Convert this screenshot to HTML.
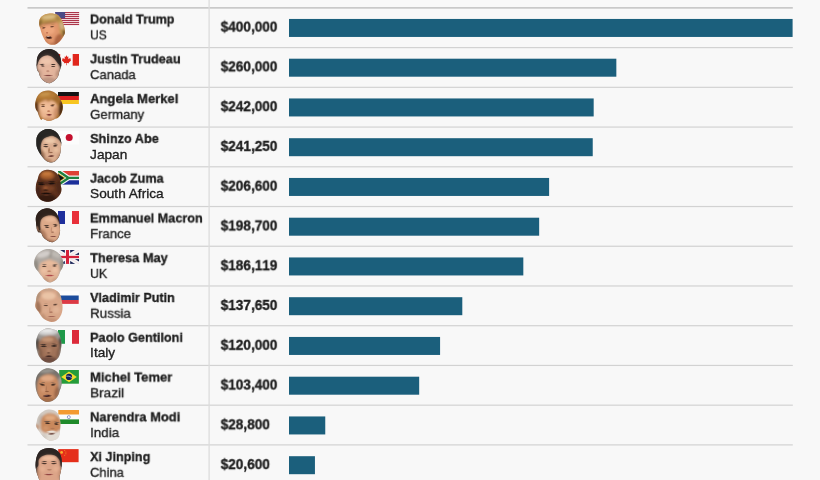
<!DOCTYPE html><html><head><meta charset="utf-8"><title>Salaries of world leaders</title><style>
html,body{margin:0;padding:0}
body{width:820px;height:480px;overflow:hidden;background:#f8f8f8;position:relative;font-family:"Liberation Sans",sans-serif;color:#1e1e1e}
.n{position:absolute;left:0;top:0;will-change:transform;-webkit-text-stroke:0.35px #1e1e1e;font-weight:bold;font-size:13.6px;line-height:14px;white-space:nowrap;transform-origin:0 0}
.c{position:absolute;left:0;top:0;will-change:transform;-webkit-text-stroke:0.35px #1e1e1e;font-size:13.6px;line-height:14px;white-space:nowrap;transform-origin:0 0}
.v{position:absolute;left:0;top:0;font-kerning:none;will-change:transform;-webkit-text-stroke:0.35px #1e1e1e;font-weight:bold;font-size:14px;line-height:14px;white-space:nowrap;transform-origin:0 0}
svg{position:absolute;left:0;top:0}
</style></head><body>
<div class="n" style="transform:translate(90.1px,12.54px) scaleX(0.923)">Donald Trump</div>
<div class="c" style="transform:translate(90.1px,28.33px) scaleX(0.883)">US</div>
<div class="v" style="transform:translate(220.7px,19.60px) scaleX(0.972)">$400,000</div>
<div class="n" style="transform:translate(90.1px,52.32px) scaleX(0.936)">Justin Trudeau</div>
<div class="c" style="transform:translate(90.1px,68.10px) scaleX(0.958)">Canada</div>
<div class="v" style="transform:translate(220.7px,59.37px) scaleX(0.972)">$260,000</div>
<div class="n" style="transform:translate(90.1px,92.10px) scaleX(0.957)">Angela Merkel</div>
<div class="c" style="transform:translate(90.1px,107.87px) scaleX(0.968)">Germany</div>
<div class="v" style="transform:translate(220.7px,99.14px) scaleX(0.972)">$242,000</div>
<div class="n" style="transform:translate(90.1px,131.88px) scaleX(0.934)">Shinzo Abe</div>
<div class="c" style="transform:translate(90.1px,147.64px) scaleX(1.004)">Japan</div>
<div class="v" style="transform:translate(220.7px,138.91px) scaleX(0.972)">$241,250</div>
<div class="n" style="transform:translate(90.1px,171.66px) scaleX(0.926)">Jacob Zuma</div>
<div class="c" style="transform:translate(90.1px,187.41px) scaleX(1.003)">South Africa</div>
<div class="v" style="transform:translate(220.7px,178.68px) scaleX(0.972)">$206,600</div>
<div class="n" style="transform:translate(90.1px,211.44px) scaleX(0.932)">Emmanuel Macron</div>
<div class="c" style="transform:translate(90.1px,227.18px) scaleX(0.965)">France</div>
<div class="v" style="transform:translate(220.7px,218.45px) scaleX(0.972)">$198,700</div>
<div class="n" style="transform:translate(90.1px,251.22px) scaleX(0.943)">Theresa May</div>
<div class="c" style="transform:translate(90.1px,266.95px) scaleX(0.905)">UK</div>
<div class="v" style="transform:translate(220.7px,258.22px) scaleX(0.972)">$186,119</div>
<div class="n" style="transform:translate(90.1px,291.00px) scaleX(0.927)">Vladimir Putin</div>
<div class="c" style="transform:translate(90.1px,306.72px) scaleX(0.979)">Russia</div>
<div class="v" style="transform:translate(220.7px,297.99px) scaleX(0.972)">$137,650</div>
<div class="n" style="transform:translate(90.1px,330.78px) scaleX(0.931)">Paolo Gentiloni</div>
<div class="c" style="transform:translate(90.1px,346.49px) scaleX(1.002)">Italy</div>
<div class="v" style="transform:translate(220.7px,337.76px) scaleX(0.972)">$120,000</div>
<div class="n" style="transform:translate(90.1px,370.56px) scaleX(0.957)">Michel Temer</div>
<div class="c" style="transform:translate(90.1px,386.26px) scaleX(0.999)">Brazil</div>
<div class="v" style="transform:translate(220.7px,377.53px) scaleX(0.972)">$103,400</div>
<div class="n" style="transform:translate(90.1px,410.34px) scaleX(0.947)">Narendra Modi</div>
<div class="c" style="transform:translate(90.1px,426.03px) scaleX(0.981)">India</div>
<div class="v" style="transform:translate(220.7px,417.30px) scaleX(0.972)">$28,800</div>
<div class="n" style="transform:translate(90.1px,450.12px) scaleX(0.926)">Xi Jinping</div>
<div class="c" style="transform:translate(90.1px,465.80px) scaleX(0.947)">China</div>
<div class="v" style="transform:translate(220.7px,457.07px) scaleX(0.972)">$20,600</div>
<svg width="820" height="480" viewBox="0 0 820 480">
<defs><filter id="b2" x="-10%" y="-10%" width="120%" height="120%"><feGaussianBlur stdDeviation="0.9"/></filter><radialGradient id="g5e3626_35"><stop offset="0.35" stop-color="#5e3626"/><stop offset="1" stop-color="#5e3626" stop-opacity="0"/></radialGradient><radialGradient id="ga88048_35"><stop offset="0.35" stop-color="#a88048"/><stop offset="1" stop-color="#a88048" stop-opacity="0"/></radialGradient><radialGradient id="gb8664a_35"><stop offset="0.35" stop-color="#b8664a"/><stop offset="1" stop-color="#b8664a" stop-opacity="0"/></radialGradient><radialGradient id="g301210_35"><stop offset="0.35" stop-color="#301210"/><stop offset="1" stop-color="#301210" stop-opacity="0"/></radialGradient><radialGradient id="gecdcd4_35"><stop offset="0.35" stop-color="#ecdcd4"/><stop offset="1" stop-color="#ecdcd4" stop-opacity="0"/></radialGradient><radialGradient id="g3a2620_35"><stop offset="0.35" stop-color="#3a2620"/><stop offset="1" stop-color="#3a2620" stop-opacity="0"/></radialGradient><radialGradient id="g2a201c_35"><stop offset="0.35" stop-color="#2a201c"/><stop offset="1" stop-color="#2a201c" stop-opacity="0"/></radialGradient><radialGradient id="gb8806c_35"><stop offset="0.35" stop-color="#b8806c"/><stop offset="1" stop-color="#b8806c" stop-opacity="0"/></radialGradient><radialGradient id="g7a3c38_35"><stop offset="0.35" stop-color="#7a3c38"/><stop offset="1" stop-color="#7a3c38" stop-opacity="0"/></radialGradient><radialGradient id="gc8948a_35"><stop offset="0.35" stop-color="#c8948a"/><stop offset="1" stop-color="#c8948a" stop-opacity="0"/></radialGradient><radialGradient id="g4a2c20_35"><stop offset="0.35" stop-color="#4a2c20"/><stop offset="1" stop-color="#4a2c20" stop-opacity="0"/></radialGradient><radialGradient id="g8a5a30_35"><stop offset="0.35" stop-color="#8a5a30"/><stop offset="1" stop-color="#8a5a30" stop-opacity="0"/></radialGradient><radialGradient id="gb87050_35"><stop offset="0.35" stop-color="#b87050"/><stop offset="1" stop-color="#b87050" stop-opacity="0"/></radialGradient><radialGradient id="g6e2624_35"><stop offset="0.35" stop-color="#6e2624"/><stop offset="1" stop-color="#6e2624" stop-opacity="0"/></radialGradient><radialGradient id="gd09078_35"><stop offset="0.35" stop-color="#d09078"/><stop offset="1" stop-color="#d09078" stop-opacity="0"/></radialGradient><radialGradient id="g2e201a_35"><stop offset="0.35" stop-color="#2e201a"/><stop offset="1" stop-color="#2e201a" stop-opacity="0"/></radialGradient><radialGradient id="g2a2220_35"><stop offset="0.35" stop-color="#2a2220"/><stop offset="1" stop-color="#2a2220" stop-opacity="0"/></radialGradient><radialGradient id="g9a6848_35"><stop offset="0.35" stop-color="#9a6848"/><stop offset="1" stop-color="#9a6848" stop-opacity="0"/></radialGradient><radialGradient id="g8a5840_35"><stop offset="0.35" stop-color="#8a5840"/><stop offset="1" stop-color="#8a5840" stop-opacity="0"/></radialGradient><radialGradient id="g5e2c26_35"><stop offset="0.35" stop-color="#5e2c26"/><stop offset="1" stop-color="#5e2c26" stop-opacity="0"/></radialGradient><radialGradient id="ge0b090_35"><stop offset="0.35" stop-color="#e0b090"/><stop offset="1" stop-color="#e0b090" stop-opacity="0"/></radialGradient><radialGradient id="g160c0a_35"><stop offset="0.35" stop-color="#160c0a"/><stop offset="1" stop-color="#160c0a" stop-opacity="0"/></radialGradient><radialGradient id="g24140e_35"><stop offset="0.35" stop-color="#24140e"/><stop offset="1" stop-color="#24140e" stop-opacity="0"/></radialGradient><radialGradient id="g3a1c12_35"><stop offset="0.35" stop-color="#3a1c12"/><stop offset="1" stop-color="#3a1c12" stop-opacity="0"/></radialGradient><radialGradient id="g140a08_35"><stop offset="0.35" stop-color="#140a08"/><stop offset="1" stop-color="#140a08" stop-opacity="0"/></radialGradient><radialGradient id="g6a3822_35"><stop offset="0.35" stop-color="#6a3822"/><stop offset="1" stop-color="#6a3822" stop-opacity="0"/></radialGradient><radialGradient id="g34221c_35"><stop offset="0.35" stop-color="#34221c"/><stop offset="1" stop-color="#34221c" stop-opacity="0"/></radialGradient><radialGradient id="g3a2a22_35"><stop offset="0.35" stop-color="#3a2a22"/><stop offset="1" stop-color="#3a2a22" stop-opacity="0"/></radialGradient><radialGradient id="gb88064_35"><stop offset="0.35" stop-color="#b88064"/><stop offset="1" stop-color="#b88064" stop-opacity="0"/></radialGradient><radialGradient id="ga06c54_35"><stop offset="0.35" stop-color="#a06c54"/><stop offset="1" stop-color="#a06c54" stop-opacity="0"/></radialGradient><radialGradient id="g7a4038_35"><stop offset="0.35" stop-color="#7a4038"/><stop offset="1" stop-color="#7a4038" stop-opacity="0"/></radialGradient><radialGradient id="g3e2e28_35"><stop offset="0.35" stop-color="#3e2e28"/><stop offset="1" stop-color="#3e2e28" stop-opacity="0"/></radialGradient><radialGradient id="g6a5a50_35"><stop offset="0.35" stop-color="#6a5a50"/><stop offset="1" stop-color="#6a5a50" stop-opacity="0"/></radialGradient><radialGradient id="gb87a60_35"><stop offset="0.35" stop-color="#b87a60"/><stop offset="1" stop-color="#b87a60" stop-opacity="0"/></radialGradient><radialGradient id="ga83e42_35"><stop offset="0.35" stop-color="#a83e42"/><stop offset="1" stop-color="#a83e42" stop-opacity="0"/></radialGradient><radialGradient id="gd8a088_35"><stop offset="0.35" stop-color="#d8a088"/><stop offset="1" stop-color="#d8a088" stop-opacity="0"/></radialGradient><radialGradient id="g4a3228_35"><stop offset="0.35" stop-color="#4a3228"/><stop offset="1" stop-color="#4a3228" stop-opacity="0"/></radialGradient><radialGradient id="g9a7860_35"><stop offset="0.35" stop-color="#9a7860"/><stop offset="1" stop-color="#9a7860" stop-opacity="0"/></radialGradient><radialGradient id="gc08c70_35"><stop offset="0.35" stop-color="#c08c70"/><stop offset="1" stop-color="#c08c70" stop-opacity="0"/></radialGradient><radialGradient id="ga8705a_35"><stop offset="0.35" stop-color="#a8705a"/><stop offset="1" stop-color="#a8705a" stop-opacity="0"/></radialGradient><radialGradient id="g9a5c4e_35"><stop offset="0.35" stop-color="#9a5c4e"/><stop offset="1" stop-color="#9a5c4e" stop-opacity="0"/></radialGradient><radialGradient id="g2a1e1a_35"><stop offset="0.35" stop-color="#2a1e1a"/><stop offset="1" stop-color="#2a1e1a" stop-opacity="0"/></radialGradient><radialGradient id="g3a2c26_35"><stop offset="0.35" stop-color="#3a2c26"/><stop offset="1" stop-color="#3a2c26" stop-opacity="0"/></radialGradient><radialGradient id="g6a4636_35"><stop offset="0.35" stop-color="#6a4636"/><stop offset="1" stop-color="#6a4636" stop-opacity="0"/></radialGradient><radialGradient id="g3a221e_35"><stop offset="0.35" stop-color="#3a221e"/><stop offset="1" stop-color="#3a221e" stop-opacity="0"/></radialGradient><radialGradient id="g2e1e18_35"><stop offset="0.35" stop-color="#2e1e18"/><stop offset="1" stop-color="#2e1e18" stop-opacity="0"/></radialGradient><radialGradient id="g5a4a40_35"><stop offset="0.35" stop-color="#5a4a40"/><stop offset="1" stop-color="#5a4a40" stop-opacity="0"/></radialGradient><radialGradient id="ga87050_35"><stop offset="0.35" stop-color="#a87050"/><stop offset="1" stop-color="#a87050" stop-opacity="0"/></radialGradient><radialGradient id="g8a5438_35"><stop offset="0.35" stop-color="#8a5438"/><stop offset="1" stop-color="#8a5438" stop-opacity="0"/></radialGradient><radialGradient id="g34161a_35"><stop offset="0.35" stop-color="#34161a"/><stop offset="1" stop-color="#34161a" stop-opacity="0"/></radialGradient><radialGradient id="gd8c0b4_35"><stop offset="0.35" stop-color="#d8c0b4"/><stop offset="1" stop-color="#d8c0b4" stop-opacity="0"/></radialGradient><radialGradient id="g5a4a42_35"><stop offset="0.35" stop-color="#5a4a42"/><stop offset="1" stop-color="#5a4a42" stop-opacity="0"/></radialGradient><radialGradient id="gece6de_35"><stop offset="0.35" stop-color="#ece6de"/><stop offset="1" stop-color="#ece6de" stop-opacity="0"/></radialGradient><radialGradient id="g6a4238_35"><stop offset="0.35" stop-color="#6a4238"/><stop offset="1" stop-color="#6a4238" stop-opacity="0"/></radialGradient><radialGradient id="gb07a60_35"><stop offset="0.35" stop-color="#b07a60"/><stop offset="1" stop-color="#b07a60" stop-opacity="0"/></radialGradient><radialGradient id="g8a3a38_35"><stop offset="0.35" stop-color="#8a3a38"/><stop offset="1" stop-color="#8a3a38" stop-opacity="0"/></radialGradient><radialGradient id="ge8d0c8_35"><stop offset="0.35" stop-color="#e8d0c8"/><stop offset="1" stop-color="#e8d0c8" stop-opacity="0"/></radialGradient></defs>
<g>
<rect x="27.5" y="7.07" width="765.3" height="1.6" fill="#c6c6c6"/>
<rect x="27.5" y="47.00" width="765.3" height="1.2" fill="#d2d2d2"/>
<rect x="27.5" y="86.73" width="765.3" height="1.2" fill="#d2d2d2"/>
<rect x="27.5" y="126.46" width="765.3" height="1.2" fill="#d2d2d2"/>
<rect x="27.5" y="166.19" width="765.3" height="1.2" fill="#d2d2d2"/>
<rect x="27.5" y="205.92" width="765.3" height="1.2" fill="#d2d2d2"/>
<rect x="27.5" y="245.65" width="765.3" height="1.2" fill="#d2d2d2"/>
<rect x="27.5" y="285.38" width="765.3" height="1.2" fill="#d2d2d2"/>
<rect x="27.5" y="325.11" width="765.3" height="1.2" fill="#d2d2d2"/>
<rect x="27.5" y="364.84" width="765.3" height="1.2" fill="#d2d2d2"/>
<rect x="27.5" y="404.57" width="765.3" height="1.2" fill="#d2d2d2"/>
<rect x="27.5" y="444.30" width="765.3" height="1.2" fill="#d2d2d2"/>
<rect x="208.45" y="0" width="1.3" height="480" fill="#dcdcdc"/>
<rect x="289" y="18.95" width="503.60" height="18" fill="#1b5f7c"/>
<rect x="289" y="58.70" width="327.34" height="18" fill="#1b5f7c"/>
<rect x="289" y="98.45" width="304.68" height="18" fill="#1b5f7c"/>
<rect x="289" y="138.20" width="303.73" height="18" fill="#1b5f7c"/>
<rect x="289" y="177.95" width="260.11" height="18" fill="#1b5f7c"/>
<rect x="289" y="217.70" width="250.16" height="18" fill="#1b5f7c"/>
<rect x="289" y="257.45" width="234.32" height="18" fill="#1b5f7c"/>
<rect x="289" y="297.20" width="173.30" height="18" fill="#1b5f7c"/>
<rect x="289" y="336.95" width="151.08" height="18" fill="#1b5f7c"/>
<rect x="289" y="376.70" width="130.18" height="18" fill="#1b5f7c"/>
<rect x="289" y="416.45" width="36.26" height="18" fill="#1b5f7c"/>
<rect x="289" y="456.20" width="25.94" height="18" fill="#1b5f7c"/>
</g>
<g>
<g id="f-us">
<rect x="55.3" y="12" width="23.8" height="13" fill="#f5dfe2"/>
<rect x="55.3" y="12.00" width="23.8" height="1.05" fill="#ab364a"/>
<rect x="55.3" y="14.00" width="23.8" height="1.05" fill="#ab364a"/>
<rect x="55.3" y="16.00" width="23.8" height="1.05" fill="#ab364a"/>
<rect x="55.3" y="18.00" width="23.8" height="1.05" fill="#ab364a"/>
<rect x="55.3" y="20.00" width="23.8" height="1.05" fill="#ab364a"/>
<rect x="55.3" y="22.00" width="23.8" height="1.05" fill="#ab364a"/>
<rect x="55.3" y="24.00" width="23.8" height="1.05" fill="#ab364a"/>
<rect x="55.3" y="12" width="9.8" height="6.4" fill="#4b4b86"/>
</g>
<g id="f-ca">
<rect x="54" y="54" width="6.2" height="11.7" fill="#e0261c"/>
<rect x="72.7" y="54" width="6.3" height="11.7" fill="#e0261c"/>
<path d="M66.5 55.2 l1 1.9 1-.5 -.5 2.6 1.3-1.2 .3.8 1.5-.3 -.6 1.6 .6.4 -2.3 1.9 .3.9 -2.3-.4 v2.3 h-.6 v-2.3 l-2.3.4 .3-.9 -2.3-1.9 .6-.4 -.6-1.6 1.5.3 .3-.8 1.3 1.2 -.5-2.6 1 .5z" fill="#e0261c"/>
</g>
<g id="f-de"><rect x="58" y="92" width="20.9" height="4.1" fill="#141414"/><rect x="58" y="96" width="20.9" height="4.1" fill="#dd1f1f"/><rect x="58" y="100" width="20.9" height="4" fill="#f7c520"/></g>
<g id="f-jp"><rect x="58" y="131" width="21" height="13.5" fill="#fcfcfc"/><circle cx="69.2" cy="137.6" r="3.5" fill="#c4102e"/></g>
<g id="f-za"><clipPath id="cza"><rect x="58" y="171" width="21" height="13.8"/></clipPath><g clip-path="url(#cza)">
<rect x="58" y="171" width="21" height="6.9" fill="#de4034"/><rect x="58" y="177.9" width="21" height="6.9" fill="#1c2f9a"/>
<path d="M56.5 169.8 L68.6 177.9 L56.5 186 M68.6 177.9 H80" stroke="#f4f4f4" stroke-width="4.6" fill="none"/>
<path d="M56.5 169.8 L68.6 177.9 L56.5 186 M68.6 177.9 H80" stroke="#1f8040" stroke-width="2.4" fill="none"/>
<path d="M58 173 L65.4 177.9 L58 182.8z" fill="#d4b428"/><path d="M58 173.9 L64.1 177.9 L58 181.9z" fill="#111"/>
</g></g>
<g id="f-fr"><rect x="58" y="211" width="7" height="13" fill="#1f2f9c"/><rect x="65" y="211" width="7" height="13" fill="#fafafa"/><rect x="72" y="211" width="7" height="13" fill="#e8303a"/></g>
<g id="f-uk"><clipPath id="cuk"><rect x="59.1" y="249.9" width="20" height="14"/></clipPath><g clip-path="url(#cuk)">
<rect x="55.9" y="249.9" width="23.2" height="14" fill="#1c2558"/>
<path d="M55.9 249.9 L79.1 263.9 M79.1 249.9 L55.9 263.9" stroke="#f6f6f6" stroke-width="4.2"/>
<path d="M55.9 249.9 L79.1 263.9 M79.1 249.9 L55.9 263.9" stroke="#e0526a" stroke-width="0.7" opacity="0.2"/>
<path d="M67.5 249.9 V263.9" stroke="#f6f6f6" stroke-width="5.3"/><path d="M55.9 257 H79.1" stroke="#f6f6f6" stroke-width="4.2"/>
<path d="M67.5 249.9 V263.9" stroke="#d4213a" stroke-width="3"/><path d="M55.9 257 H79.1" stroke="#d4213a" stroke-width="2.3"/>
</g></g>
<g id="f-ru"><rect x="60" y="291.3" width="18.7" height="4.5" fill="#fcfcfc"/><rect x="60" y="295.5" width="18.7" height="4.6" fill="#1c4c9c"/><rect x="60" y="300" width="18.7" height="3.9" fill="#dc3a44"/></g>
<g id="f-it"><rect x="58" y="330" width="7" height="13.8" fill="#1f9a4a"/><rect x="65" y="330" width="7" height="13.8" fill="#fafafa"/><rect x="72" y="330" width="7" height="13.8" fill="#dc2a3a"/></g>
<g id="f-br"><rect x="59.2" y="370" width="19.7" height="13.7" fill="#259c3a"/><path d="M61.2 376.9 L69 371.6 L76.8 376.9 L69 382.2z" fill="#f2dc2c"/><circle cx="69" cy="376.9" r="3.1" fill="#10205a"/><path d="M66.2 376.2 Q69 375.4 71.9 377.6" stroke="#e8eef8" stroke-width="0.6" fill="none"/></g>
<g id="f-in"><rect x="58.3" y="410" width="20.7" height="4.7" fill="#f39a30"/><rect x="58.3" y="414.7" width="20.7" height="4.8" fill="#fbfbfb"/><rect x="58.3" y="419.4" width="20.7" height="4.6" fill="#1f8a2a"/><circle cx="68.8" cy="417.1" r="1.5" fill="none" stroke="#2a3a9a" stroke-width="0.6" opacity="0.8"/></g>
<g id="f-cn"><rect x="58.2" y="449.1" width="20.4" height="13.1" fill="#e52e1a"/><circle cx="61.6" cy="452.4" r="1.4" fill="#f6b02c"/><circle cx="64.7" cy="450.6" r=".5" fill="#f09a2c"/><circle cx="65.9" cy="452" r=".5" fill="#f09a2c"/><circle cx="65.9" cy="453.8" r=".5" fill="#f09a2c"/><circle cx="64.7" cy="455.2" r=".5" fill="#f09a2c"/></g>
</g>
<g><clipPath id="h1"><path d="M39.15 24.25 C39.11 22.67 39.21 20.23 39.94 18.71 C40.66 17.19 41.85 16.00 43.50 15.15 C45.15 14.29 47.72 13.69 49.84 13.56 C51.95 13.43 54.45 13.69 56.17 14.35 C57.88 15.01 59.01 16.14 60.13 17.52 C61.25 18.91 62.17 20.89 62.90 22.67 C63.63 24.45 64.15 26.50 64.48 28.21 C64.81 29.93 65.08 31.58 64.88 32.96 C64.68 34.35 63.96 35.34 63.30 36.52 C62.64 37.71 61.98 38.90 60.92 40.09 C59.86 41.27 58.41 42.86 56.96 43.65 C55.51 44.44 53.79 44.90 52.21 44.84 C50.63 44.77 48.85 44.31 47.46 43.25 C46.07 42.20 44.89 40.22 43.90 38.50 C42.91 36.79 42.14 34.68 41.52 32.96 C40.90 31.25 40.57 29.66 40.18 28.21 C39.78 26.76 39.19 25.84 39.15 24.25Z"/></clipPath><path d="M39.15 24.25 C39.11 22.67 39.21 20.23 39.94 18.71 C40.66 17.19 41.85 16.00 43.50 15.15 C45.15 14.29 47.72 13.69 49.84 13.56 C51.95 13.43 54.45 13.69 56.17 14.35 C57.88 15.01 59.01 16.14 60.13 17.52 C61.25 18.91 62.17 20.89 62.90 22.67 C63.63 24.45 64.15 26.50 64.48 28.21 C64.81 29.93 65.08 31.58 64.88 32.96 C64.68 34.35 63.96 35.34 63.30 36.52 C62.64 37.71 61.98 38.90 60.92 40.09 C59.86 41.27 58.41 42.86 56.96 43.65 C55.51 44.44 53.79 44.90 52.21 44.84 C50.63 44.77 48.85 44.31 47.46 43.25 C46.07 42.20 44.89 40.22 43.90 38.50 C42.91 36.79 42.14 34.68 41.52 32.96 C40.90 31.25 40.57 29.66 40.18 28.21 C39.78 26.76 39.19 25.84 39.15 24.25Z" fill="#e0966c"/><g clip-path="url(#h1)"><g filter="url(#b2)"><path d="M36.38 27.02 C37.23 29.24 39.94 24.82 41.52 24.09 C43.11 23.37 44.10 23.09 45.88 22.67 C47.66 22.25 50.36 21.69 52.21 21.56 C54.06 21.43 55.87 21.43 56.96 21.88 C58.06 22.33 58.36 23.06 58.78 24.25 C59.20 25.44 59.24 27.42 59.49 29.00 C59.75 30.59 59.76 32.43 60.29 33.75 C60.81 35.07 61.37 36.39 62.66 36.92 C63.96 37.45 67.15 41.27 68.05 36.92 C68.94 32.57 73.32 15.15 68.05 10.79 C62.77 6.44 41.65 8.09 36.38 10.79 C31.10 13.50 35.52 24.81 36.38 27.02Z" fill="#bf9650"/><ellipse cx="49.04" cy="16.97" rx="7.13" ry="2.06" fill="#dcc088" opacity="0.9" transform="rotate(-6 49.04 16.97)"/><ellipse cx="39.94" cy="23.06" rx="1.90" ry="3.80" fill="#80602c" opacity="0.8" transform="rotate(15 39.94 23.06)"/><ellipse cx="49.04" cy="22.67" rx="8.71" ry="1.11" fill="#8e6a34" opacity="0.7" transform="rotate(-8 49.04 22.67)"/><ellipse cx="61.71" cy="25.84" rx="1.58" ry="3.56" fill="#d2bc98" opacity="0.85" transform="rotate(-12 61.71 25.84)"/><ellipse cx="64.25" cy="33.36" rx="1.43" ry="3.56" fill="#553c1e" opacity="0.9" transform="rotate(-5 64.25 33.36)"/><ellipse cx="57.75" cy="18.31" rx="2.77" ry="1.74" fill="#9c783e" opacity="0.65" transform="rotate(35 57.75 18.31)"/><ellipse cx="49.04" cy="30.19" rx="5.94" ry="4.35" fill="#f0a880" opacity="0.9"/><ellipse cx="58.54" cy="39.30" rx="3.56" ry="5.94" fill="#a45a38" opacity="0.8" transform="rotate(25 58.54 39.30)"/><ellipse cx="45.08" cy="41.67" rx="3.96" ry="1.74" fill="#bc704a" opacity="0.65" transform="rotate(30 45.08 41.67)"/><ellipse cx="53.79" cy="44.05" rx="4.75" ry="1.43" fill="#a05a3a" opacity="0.65" transform="rotate(-10 53.79 44.05)"/></g><g><ellipse cx="43.66" cy="27.89" rx="2.44" ry="1.01" fill="url(#g5e3626_35)" opacity="0.85" transform="rotate(-5 43.66 27.89)"/><ellipse cx="52.05" cy="26.79" rx="2.66" ry="1.01" fill="url(#g5e3626_35)" opacity="0.85" transform="rotate(-5 52.05 26.79)"/><ellipse cx="43.18" cy="26.07" rx="2.66" ry="0.63" fill="url(#ga88048_35)" opacity="0.8" transform="rotate(-10 43.18 26.07)"/><ellipse cx="52.05" cy="24.89" rx="3.10" ry="0.63" fill="url(#ga88048_35)" opacity="0.8" transform="rotate(-5 52.05 24.89)"/><ellipse cx="47.06" cy="32.80" rx="1.66" ry="1.27" fill="url(#gb8664a_35)" opacity="0.75"/><ellipse cx="48.89" cy="37.55" rx="3.99" ry="1.90" fill="url(#g301210_35)" opacity="0.95" transform="rotate(5 48.89 37.55)"/><ellipse cx="48.73" cy="36.68" rx="2.44" ry="0.51" fill="url(#gecdcd4_35)" opacity="0.8" transform="rotate(5 48.73 36.68)"/></g></g></g>
<g><clipPath id="h2"><path d="M36.75 62.84 C36.84 61.52 36.75 59.60 37.15 58.08 C37.54 56.57 38.14 54.98 39.13 53.73 C40.12 52.48 41.50 51.35 43.08 50.56 C44.67 49.77 46.78 49.05 48.63 48.98 C50.47 48.91 52.59 49.44 54.17 50.17 C55.75 50.89 57.07 52.01 58.13 53.33 C59.18 54.65 59.98 56.37 60.50 58.08 C61.03 59.80 61.23 62.04 61.30 63.63 C61.36 65.21 61.23 66.27 60.90 67.59 C60.57 68.91 59.78 70.09 59.32 71.54 C58.85 73.00 58.85 74.84 58.13 76.30 C57.40 77.75 56.15 79.20 54.96 80.25 C53.77 81.31 52.19 82.17 51.00 82.63 C49.81 83.09 49.02 83.29 47.84 83.03 C46.65 82.76 45.13 82.04 43.88 81.05 C42.62 80.06 41.17 78.54 40.31 77.09 C39.46 75.64 39.26 73.52 38.73 72.34 C38.20 71.15 37.50 71.02 37.15 69.96 C36.79 68.91 36.66 67.19 36.59 66.00 C36.53 64.81 36.66 64.15 36.75 62.84Z"/></clipPath><path d="M36.75 62.84 C36.84 61.52 36.75 59.60 37.15 58.08 C37.54 56.57 38.14 54.98 39.13 53.73 C40.12 52.48 41.50 51.35 43.08 50.56 C44.67 49.77 46.78 49.05 48.63 48.98 C50.47 48.91 52.59 49.44 54.17 50.17 C55.75 50.89 57.07 52.01 58.13 53.33 C59.18 54.65 59.98 56.37 60.50 58.08 C61.03 59.80 61.23 62.04 61.30 63.63 C61.36 65.21 61.23 66.27 60.90 67.59 C60.57 68.91 59.78 70.09 59.32 71.54 C58.85 73.00 58.85 74.84 58.13 76.30 C57.40 77.75 56.15 79.20 54.96 80.25 C53.77 81.31 52.19 82.17 51.00 82.63 C49.81 83.09 49.02 83.29 47.84 83.03 C46.65 82.76 45.13 82.04 43.88 81.05 C42.62 80.06 41.17 78.54 40.31 77.09 C39.46 75.64 39.26 73.52 38.73 72.34 C38.20 71.15 37.50 71.02 37.15 69.96 C36.79 68.91 36.66 67.19 36.59 66.00 C36.53 64.81 36.66 64.15 36.75 62.84Z" fill="#2b2523"/><g clip-path="url(#h2)"><g filter="url(#b2)"><path d="M36.75 68.38 C36.70 66.93 36.88 64.62 37.38 62.84 C37.89 61.05 38.70 58.98 39.76 57.69 C40.81 56.40 42.37 55.67 43.72 55.08 C45.06 54.48 46.49 54.05 47.84 54.13 C49.18 54.21 50.63 54.86 51.79 55.55 C52.96 56.24 53.91 57.29 54.80 58.24 C55.70 59.19 56.47 60.12 57.18 61.25 C57.89 62.39 58.55 63.73 59.08 65.05 C59.61 66.37 60.31 67.30 60.35 69.17 C60.38 71.04 60.15 74.25 59.32 76.30 C58.48 78.34 57.01 80.06 55.36 81.44 C53.71 82.83 51.40 84.48 49.42 84.61 C47.44 84.74 45.13 83.42 43.48 82.23 C41.83 81.05 40.49 79.26 39.52 77.48 C38.56 75.70 38.16 73.06 37.70 71.54 C37.24 70.03 36.80 69.83 36.75 68.38Z" fill="#e2b49c"/><ellipse cx="46.25" cy="61.25" rx="5.94" ry="3.17" fill="#efc6ae" opacity="0.9"/><ellipse cx="48.63" cy="80.25" rx="7.13" ry="3.17" fill="#b08878" opacity="0.7"/><ellipse cx="39.92" cy="73.13" rx="1.74" ry="3.96" fill="#b48a76" opacity="0.6" transform="rotate(-15 39.92 73.13)"/><ellipse cx="57.49" cy="73.13" rx="1.58" ry="3.96" fill="#a87e6a" opacity="0.7" transform="rotate(15 57.49 73.13)"/><ellipse cx="47.84" cy="69.96" rx="4.35" ry="3.17" fill="#e8b8a0" opacity="0.7"/></g><g><path d="M34.38 66.00 C33.93 63.03 29.23 50.50 34.38 47.40 C39.52 44.29 60.11 44.03 65.25 47.40 C70.40 50.76 65.97 64.35 65.25 67.59 C64.54 70.82 61.98 67.26 60.98 66.79 C59.98 66.33 59.92 65.63 59.24 64.81 C58.55 64.00 57.65 62.85 56.86 61.89 C56.07 60.92 55.37 59.93 54.49 59.03 C53.60 58.14 52.67 57.13 51.56 56.50 C50.45 55.87 49.12 55.30 47.84 55.23 C46.56 55.17 45.14 55.58 43.88 56.11 C42.61 56.63 41.18 57.41 40.23 58.40 C39.28 59.39 38.70 60.91 38.18 62.04 C37.65 63.18 37.70 64.55 37.07 65.21 C36.43 65.87 34.82 68.97 34.38 66.00Z" fill="#2b2523" opacity="0.85"/><ellipse cx="42.69" cy="66.00" rx="2.66" ry="0.89" fill="url(#g3a2620_35)" opacity="0.85" transform="rotate(3 42.69 66.00)"/><ellipse cx="53.22" cy="66.48" rx="2.66" ry="0.89" fill="url(#g3a2620_35)" opacity="0.85" transform="rotate(5 53.22 66.48)"/><ellipse cx="42.29" cy="64.18" rx="3.55" ry="0.76" fill="url(#g2a201c_35)" opacity="0.9" transform="rotate(-3 42.29 64.18)"/><ellipse cx="53.38" cy="64.58" rx="3.33" ry="0.76" fill="url(#g2a201c_35)" opacity="0.9" transform="rotate(8 53.38 64.58)"/><ellipse cx="47.84" cy="71.15" rx="2.22" ry="1.52" fill="url(#gb8806c_35)" opacity="0.7"/><ellipse cx="48.23" cy="75.27" rx="5.54" ry="0.89" fill="url(#g7a3c38_35)" opacity="0.9"/><ellipse cx="48.23" cy="76.14" rx="3.33" ry="0.63" fill="url(#gc8948a_35)" opacity="0.6"/></g></g></g>
<g><clipPath id="h3"><path d="M35.15 105.21 C35.15 103.63 35.34 101.45 35.94 99.67 C36.53 97.89 37.46 95.91 38.71 94.52 C39.96 93.14 41.74 92.01 43.46 91.35 C45.18 90.69 47.15 90.37 49.00 90.56 C50.85 90.76 52.90 91.55 54.54 92.54 C56.19 93.53 57.71 94.92 58.90 96.50 C60.09 98.08 61.01 100.33 61.67 102.04 C62.33 103.76 62.79 105.21 62.86 106.79 C62.92 108.38 62.53 110.09 62.07 111.54 C61.60 113.00 60.81 114.45 60.09 115.50 C59.36 116.56 58.50 117.35 57.71 117.88 C56.92 118.41 56.26 118.27 55.34 118.67 C54.41 119.07 53.36 119.88 52.17 120.25 C50.98 120.62 49.40 120.95 48.21 120.89 C47.02 120.82 45.97 120.23 45.04 119.86 C44.12 119.49 43.33 118.67 42.67 118.67 C42.01 118.67 41.68 120.25 41.08 119.86 C40.49 119.46 39.70 117.68 39.11 116.30 C38.51 114.91 38.05 112.73 37.52 111.54 C36.99 110.36 36.33 110.23 35.94 109.17 C35.54 108.11 35.15 106.79 35.15 105.21Z"/></clipPath><path d="M35.15 105.21 C35.15 103.63 35.34 101.45 35.94 99.67 C36.53 97.89 37.46 95.91 38.71 94.52 C39.96 93.14 41.74 92.01 43.46 91.35 C45.18 90.69 47.15 90.37 49.00 90.56 C50.85 90.76 52.90 91.55 54.54 92.54 C56.19 93.53 57.71 94.92 58.90 96.50 C60.09 98.08 61.01 100.33 61.67 102.04 C62.33 103.76 62.79 105.21 62.86 106.79 C62.92 108.38 62.53 110.09 62.07 111.54 C61.60 113.00 60.81 114.45 60.09 115.50 C59.36 116.56 58.50 117.35 57.71 117.88 C56.92 118.41 56.26 118.27 55.34 118.67 C54.41 119.07 53.36 119.88 52.17 120.25 C50.98 120.62 49.40 120.95 48.21 120.89 C47.02 120.82 45.97 120.23 45.04 119.86 C44.12 119.49 43.33 118.67 42.67 118.67 C42.01 118.67 41.68 120.25 41.08 119.86 C40.49 119.46 39.70 117.68 39.11 116.30 C38.51 114.91 38.05 112.73 37.52 111.54 C36.99 110.36 36.33 110.23 35.94 109.17 C35.54 108.11 35.15 106.79 35.15 105.21Z" fill="#a46c2e"/><g clip-path="url(#h3)"><g filter="url(#b2)"><ellipse cx="45.84" cy="95.71" rx="9.50" ry="3.96" fill="#b87e38" opacity="0.9" transform="rotate(-5 45.84 95.71)"/><ellipse cx="45.04" cy="94.13" rx="5.54" ry="1.90" fill="#cc9a52" opacity="0.8" transform="rotate(-8 45.04 94.13)"/><ellipse cx="36.49" cy="108.77" rx="2.38" ry="7.52" fill="#5a3214" opacity="0.88" transform="rotate(-5 36.49 108.77)"/><ellipse cx="61.27" cy="108.77" rx="2.69" ry="7.92" fill="#4a2810" opacity="0.92" transform="rotate(8 61.27 108.77)"/><path d="M38.95 106.79 C39.01 105.21 39.12 103.76 39.74 102.84 C40.36 101.91 41.65 101.67 42.67 101.25 C43.68 100.83 44.85 100.26 45.84 100.30 C46.83 100.34 47.81 101.49 48.61 101.49 C49.40 101.49 49.73 100.37 50.59 100.30 C51.44 100.24 52.74 100.50 53.75 101.09 C54.77 101.69 55.97 102.65 56.68 103.86 C57.40 105.08 57.83 106.83 58.03 108.38 C58.23 109.92 58.23 111.61 57.87 113.13 C57.51 114.65 56.84 116.27 55.89 117.48 C54.94 118.70 53.45 119.79 52.17 120.41 C50.89 121.03 49.46 121.27 48.21 121.20 C46.96 121.14 45.80 120.70 44.65 120.02 C43.50 119.33 42.21 118.37 41.32 117.09 C40.44 115.81 39.74 114.05 39.34 112.34 C38.95 110.62 38.88 108.38 38.95 106.79Z" fill="#eab48e"/><ellipse cx="45.84" cy="108.38" rx="5.54" ry="4.75" fill="#f2c09c" opacity="0.8"/><ellipse cx="55.73" cy="112.34" rx="1.98" ry="5.54" fill="#c08058" opacity="0.7" transform="rotate(10 55.73 112.34)"/><ellipse cx="48.61" cy="119.07" rx="5.54" ry="1.74" fill="#c88860" opacity="0.7"/><ellipse cx="40.29" cy="113.13" rx="1.43" ry="3.96" fill="#d09870" opacity="0.6" transform="rotate(-10 40.29 113.13)"/></g><g><ellipse cx="43.06" cy="106.16" rx="2.66" ry="1.01" fill="url(#g4a2c20_35)" opacity="0.85"/><ellipse cx="52.33" cy="105.84" rx="2.66" ry="1.01" fill="url(#g4a2c20_35)" opacity="0.85"/><ellipse cx="42.83" cy="104.58" rx="3.10" ry="0.63" fill="url(#g8a5a30_35)" opacity="0.8" transform="rotate(-5 42.83 104.58)"/><ellipse cx="52.57" cy="104.26" rx="3.10" ry="0.63" fill="url(#g8a5a30_35)" opacity="0.8" transform="rotate(5 52.57 104.26)"/><ellipse cx="48.61" cy="111.15" rx="2.22" ry="1.27" fill="url(#gb87050_35)" opacity="0.8"/><ellipse cx="49.16" cy="114.87" rx="3.55" ry="1.14" fill="url(#g6e2624_35)" opacity="0.9"/><ellipse cx="49.16" cy="116.14" rx="2.66" ry="0.63" fill="url(#gd09078_35)" opacity="0.6"/></g></g></g>
<g><clipPath id="h4"><path d="M36.35 142.84 C36.35 141.25 36.29 138.94 36.75 137.29 C37.21 135.64 38.07 134.13 39.13 132.94 C40.18 131.75 41.63 130.83 43.08 130.17 C44.54 129.51 46.12 128.98 47.84 128.98 C49.55 128.98 51.79 129.44 53.38 130.17 C54.96 130.89 56.21 132.01 57.34 133.33 C58.46 134.65 59.45 136.50 60.11 138.08 C60.77 139.67 61.16 141.25 61.30 142.84 C61.43 144.42 61.03 146.00 60.90 147.59 C60.77 149.17 60.83 150.75 60.50 152.34 C60.17 153.92 59.71 155.70 58.92 157.09 C58.13 158.47 56.94 159.75 55.75 160.65 C54.57 161.55 53.11 162.27 51.79 162.47 C50.47 162.67 49.15 162.47 47.84 161.84 C46.52 161.20 45.06 159.86 43.88 158.67 C42.69 157.48 41.63 156.03 40.71 154.71 C39.79 153.39 38.99 152.07 38.33 150.75 C37.67 149.43 37.08 148.11 36.75 146.79 C36.42 145.47 36.35 144.42 36.35 142.84Z"/></clipPath><path d="M36.35 142.84 C36.35 141.25 36.29 138.94 36.75 137.29 C37.21 135.64 38.07 134.13 39.13 132.94 C40.18 131.75 41.63 130.83 43.08 130.17 C44.54 129.51 46.12 128.98 47.84 128.98 C49.55 128.98 51.79 129.44 53.38 130.17 C54.96 130.89 56.21 132.01 57.34 133.33 C58.46 134.65 59.45 136.50 60.11 138.08 C60.77 139.67 61.16 141.25 61.30 142.84 C61.43 144.42 61.03 146.00 60.90 147.59 C60.77 149.17 60.83 150.75 60.50 152.34 C60.17 153.92 59.71 155.70 58.92 157.09 C58.13 158.47 56.94 159.75 55.75 160.65 C54.57 161.55 53.11 162.27 51.79 162.47 C50.47 162.67 49.15 162.47 47.84 161.84 C46.52 161.20 45.06 159.86 43.88 158.67 C42.69 157.48 41.63 156.03 40.71 154.71 C39.79 153.39 38.99 152.07 38.33 150.75 C37.67 149.43 37.08 148.11 36.75 146.79 C36.42 145.47 36.35 144.42 36.35 142.84Z" fill="#262422"/><g clip-path="url(#h4)"><g filter="url(#b2)"><ellipse cx="46.25" cy="132.54" rx="7.13" ry="1.98" fill="#4a4642" opacity="0.7" transform="rotate(-8 46.25 132.54)"/><path d="M40.87 153.52 C40.26 151.61 40.21 149.43 40.23 147.59 C40.26 145.74 40.49 144.00 41.03 142.44 C41.57 140.88 42.35 139.26 43.48 138.24 C44.62 137.23 46.38 136.83 47.84 136.34 C49.29 135.85 50.74 135.18 52.19 135.31 C53.64 135.45 55.29 136.34 56.54 137.13 C57.80 137.93 58.72 138.92 59.71 140.06 C60.70 141.21 61.96 142.77 62.48 144.02 C63.01 145.28 62.94 146.20 62.88 147.59 C62.81 148.97 62.61 150.62 62.09 152.34 C61.56 154.05 60.77 156.35 59.71 157.88 C58.66 159.41 57.07 160.62 55.75 161.52 C54.43 162.42 53.11 163.10 51.79 163.26 C50.47 163.42 49.15 163.17 47.84 162.47 C46.52 161.77 45.04 160.56 43.88 159.07 C42.72 157.58 41.47 155.44 40.87 153.52Z" fill="#dcae90"/><ellipse cx="49.81" cy="140.86" rx="5.54" ry="2.38" fill="#f0d0b2" opacity="0.85"/><ellipse cx="45.06" cy="149.96" rx="2.22" ry="2.22" fill="#ecc4a2" opacity="0.8"/><ellipse cx="56.15" cy="149.96" rx="2.38" ry="2.38" fill="#ecc4a2" opacity="0.8"/><ellipse cx="42.69" cy="153.92" rx="1.74" ry="4.75" fill="#8a5c40" opacity="0.75" transform="rotate(-20 42.69 153.92)"/><ellipse cx="47.84" cy="160.25" rx="4.75" ry="1.98" fill="#a87452" opacity="0.7" transform="rotate(20 47.84 160.25)"/><ellipse cx="58.92" cy="156.30" rx="1.58" ry="3.96" fill="#b07c5a" opacity="0.6" transform="rotate(20 58.92 156.30)"/></g><g><path d="M33.58 155.50 C32.66 150.95 28.17 132.08 33.58 127.40 C38.99 122.71 60.64 124.49 66.05 127.40 C71.46 130.30 66.65 141.95 66.05 144.81 C65.44 147.68 63.46 145.30 62.40 144.58 C61.35 143.85 60.69 141.62 59.71 140.46 C58.74 139.30 57.80 138.38 56.54 137.61 C55.29 136.84 53.64 136.00 52.19 135.87 C50.74 135.74 49.26 136.34 47.84 136.82 C46.41 137.29 44.73 137.74 43.64 138.72 C42.54 139.69 41.78 141.20 41.26 142.68 C40.75 144.15 40.56 145.74 40.55 147.59 C40.54 149.43 41.42 152.57 41.18 153.76 C40.95 154.95 40.39 154.42 39.13 154.71 C37.86 155.00 34.51 160.06 33.58 155.50Z" fill="#262422" opacity="0.85"/><ellipse cx="45.86" cy="146.56" rx="3.10" ry="1.14" fill="url(#g2e201a_35)" opacity="0.85" transform="rotate(3 45.86 146.56)"/><ellipse cx="55.12" cy="145.84" rx="2.88" ry="1.14" fill="url(#g2e201a_35)" opacity="0.85" transform="rotate(-3 55.12 145.84)"/><ellipse cx="45.46" cy="144.81" rx="3.55" ry="0.76" fill="url(#g2a2220_35)" opacity="0.85" transform="rotate(-3 45.46 144.81)"/><ellipse cx="55.36" cy="144.02" rx="3.33" ry="0.76" fill="url(#g2a2220_35)" opacity="0.85" transform="rotate(3 55.36 144.02)"/><ellipse cx="49.02" cy="150.36" rx="1.33" ry="3.80" fill="url(#g9a6848_35)" opacity="0.7" transform="rotate(5 49.02 150.36)"/><ellipse cx="50.84" cy="152.49" rx="2.44" ry="1.14" fill="url(#g8a5840_35)" opacity="0.8"/><ellipse cx="51.16" cy="156.06" rx="3.99" ry="1.14" fill="url(#g5e2c26_35)" opacity="0.9" transform="rotate(-3 51.16 156.06)"/><ellipse cx="51.40" cy="157.48" rx="2.88" ry="0.76" fill="url(#ge0b090_35)" opacity="0.5"/></g></g></g>
<g><clipPath id="h5"><path d="M35.75 188.38 C35.75 186.93 35.82 185.21 36.15 183.63 C36.48 182.04 37.27 180.33 37.73 178.88 C38.19 177.42 38.19 176.17 38.92 174.92 C39.64 173.66 40.77 172.21 42.08 171.35 C43.40 170.50 45.25 169.97 46.84 169.77 C48.42 169.57 50.13 169.77 51.59 170.17 C53.04 170.56 54.36 171.22 55.54 172.15 C56.73 173.07 57.92 174.32 58.71 175.71 C59.50 177.10 59.97 178.88 60.30 180.46 C60.63 182.04 60.49 183.76 60.69 185.21 C60.89 186.66 61.48 187.85 61.48 189.17 C61.48 190.49 61.22 191.87 60.69 193.13 C60.16 194.38 59.31 195.64 58.32 196.69 C57.33 197.75 56.14 198.67 54.75 199.46 C53.37 200.25 51.59 201.11 50.00 201.44 C48.42 201.77 46.84 201.77 45.25 201.44 C43.67 201.11 41.75 200.32 40.50 199.46 C39.25 198.60 38.46 197.48 37.73 196.30 C37.00 195.11 36.48 193.66 36.15 192.34 C35.82 191.02 35.75 189.83 35.75 188.38Z"/></clipPath><path d="M35.75 188.38 C35.75 186.93 35.82 185.21 36.15 183.63 C36.48 182.04 37.27 180.33 37.73 178.88 C38.19 177.42 38.19 176.17 38.92 174.92 C39.64 173.66 40.77 172.21 42.08 171.35 C43.40 170.50 45.25 169.97 46.84 169.77 C48.42 169.57 50.13 169.77 51.59 170.17 C53.04 170.56 54.36 171.22 55.54 172.15 C56.73 173.07 57.92 174.32 58.71 175.71 C59.50 177.10 59.97 178.88 60.30 180.46 C60.63 182.04 60.49 183.76 60.69 185.21 C60.89 186.66 61.48 187.85 61.48 189.17 C61.48 190.49 61.22 191.87 60.69 193.13 C60.16 194.38 59.31 195.64 58.32 196.69 C57.33 197.75 56.14 198.67 54.75 199.46 C53.37 200.25 51.59 201.11 50.00 201.44 C48.42 201.77 46.84 201.77 45.25 201.44 C43.67 201.11 41.75 200.32 40.50 199.46 C39.25 198.60 38.46 197.48 37.73 196.30 C37.00 195.11 36.48 193.66 36.15 192.34 C35.82 191.02 35.75 189.83 35.75 188.38Z" fill="#5e321e"/><g clip-path="url(#h5)"><g filter="url(#b2)"><ellipse cx="47.23" cy="175.31" rx="7.52" ry="4.35" fill="#a85e2a" opacity="0.95"/><ellipse cx="46.84" cy="173.73" rx="4.75" ry="2.38" fill="#c87a3c" opacity="0.9"/><ellipse cx="48.81" cy="188.38" rx="5.54" ry="3.17" fill="#7e4426" opacity="0.8"/><ellipse cx="46.84" cy="198.67" rx="9.50" ry="4.75" fill="#321a12" opacity="0.9"/><ellipse cx="59.11" cy="187.19" rx="2.22" ry="7.52" fill="#4a2616" opacity="0.85"/><ellipse cx="37.97" cy="191.94" rx="2.38" ry="5.94" fill="#3e2014" opacity="0.85"/><ellipse cx="45.25" cy="187.74" rx="2.38" ry="1.90" fill="#a05a34" opacity="0.85"/><ellipse cx="46.84" cy="183.63" rx="11.08" ry="1.27" fill="#3a1e14" opacity="0.6"/></g><g><ellipse cx="41.29" cy="184.26" rx="4.21" ry="1.39" fill="url(#g160c0a_35)" opacity="0.9" transform="rotate(3 41.29 184.26)"/><ellipse cx="51.74" cy="183.47" rx="4.21" ry="1.39" fill="url(#g160c0a_35)" opacity="0.9" transform="rotate(-3 51.74 183.47)"/><ellipse cx="40.90" cy="182.36" rx="4.66" ry="0.89" fill="url(#g24140e_35)" opacity="0.7" transform="rotate(-5 40.90 182.36)"/><ellipse cx="51.98" cy="181.57" rx="4.66" ry="0.89" fill="url(#g24140e_35)" opacity="0.7" transform="rotate(5 51.98 181.57)"/><ellipse cx="45.65" cy="190.12" rx="3.99" ry="1.14" fill="url(#g3a1c12_35)" opacity="0.85"/><ellipse cx="46.20" cy="193.37" rx="6.21" ry="1.14" fill="url(#g140a08_35)" opacity="0.9"/><ellipse cx="46.44" cy="195.11" rx="3.99" ry="1.01" fill="url(#g6a3822_35)" opacity="0.6"/></g></g></g>
<g><clipPath id="h6"><path d="M35.94 221.84 C35.87 220.38 35.61 218.60 35.94 217.08 C36.27 215.57 36.93 213.98 37.92 212.73 C38.91 211.48 40.42 210.32 41.88 209.56 C43.33 208.81 45.04 208.28 46.63 208.22 C48.21 208.15 49.93 208.55 51.38 209.17 C52.83 209.79 54.21 210.75 55.34 211.94 C56.46 213.13 57.45 214.78 58.11 216.29 C58.77 217.81 59.03 219.46 59.30 221.04 C59.56 222.63 59.56 224.21 59.69 225.79 C59.82 227.38 60.15 228.96 60.09 230.54 C60.02 232.13 59.76 233.84 59.30 235.30 C58.83 236.75 58.24 238.20 57.32 239.25 C56.39 240.31 54.87 241.17 53.75 241.63 C52.63 242.09 51.77 242.29 50.59 242.03 C49.40 241.76 47.88 240.90 46.63 240.05 C45.37 239.19 43.99 238.07 43.06 236.88 C42.14 235.69 41.88 233.71 41.08 232.92 C40.29 232.13 39.04 232.79 38.31 232.13 C37.59 231.47 37.06 230.02 36.73 228.96 C36.40 227.91 36.47 226.98 36.33 225.79 C36.20 224.61 36.00 223.29 35.94 221.84Z"/></clipPath><path d="M35.94 221.84 C35.87 220.38 35.61 218.60 35.94 217.08 C36.27 215.57 36.93 213.98 37.92 212.73 C38.91 211.48 40.42 210.32 41.88 209.56 C43.33 208.81 45.04 208.28 46.63 208.22 C48.21 208.15 49.93 208.55 51.38 209.17 C52.83 209.79 54.21 210.75 55.34 211.94 C56.46 213.13 57.45 214.78 58.11 216.29 C58.77 217.81 59.03 219.46 59.30 221.04 C59.56 222.63 59.56 224.21 59.69 225.79 C59.82 227.38 60.15 228.96 60.09 230.54 C60.02 232.13 59.76 233.84 59.30 235.30 C58.83 236.75 58.24 238.20 57.32 239.25 C56.39 240.31 54.87 241.17 53.75 241.63 C52.63 242.09 51.77 242.29 50.59 242.03 C49.40 241.76 47.88 240.90 46.63 240.05 C45.37 239.19 43.99 238.07 43.06 236.88 C42.14 235.69 41.88 233.71 41.08 232.92 C40.29 232.13 39.04 232.79 38.31 232.13 C37.59 231.47 37.06 230.02 36.73 228.96 C36.40 227.91 36.47 226.98 36.33 225.79 C36.20 224.61 36.00 223.29 35.94 221.84Z" fill="#2e211b"/><g clip-path="url(#h6)"><g filter="url(#b2)"><ellipse cx="45.84" cy="211.54" rx="5.54" ry="1.58" fill="#4a382e" opacity="0.5" transform="rotate(-5 45.84 211.54)"/><path d="M40.13 229.75 C39.95 228.37 39.66 226.59 39.66 225.00 C39.66 223.42 39.66 221.60 40.13 220.25 C40.61 218.91 41.43 217.77 42.51 216.93 C43.59 216.08 45.15 215.55 46.63 215.18 C48.11 214.81 49.95 214.55 51.38 214.71 C52.80 214.87 54.19 215.47 55.18 216.13 C56.17 216.79 56.66 217.65 57.32 218.67 C57.98 219.68 58.57 221.04 59.14 222.23 C59.70 223.42 60.40 224.41 60.72 225.79 C61.04 227.18 61.14 228.90 61.04 230.54 C60.93 232.19 60.64 234.13 60.09 235.69 C59.53 237.25 58.77 238.79 57.71 239.89 C56.66 240.98 54.97 241.81 53.75 242.26 C52.54 242.71 51.64 242.87 50.43 242.58 C49.21 242.29 47.74 241.42 46.47 240.52 C45.20 239.62 43.78 238.40 42.83 237.20 C41.88 235.99 41.22 234.56 40.77 233.32 C40.32 232.08 40.32 231.14 40.13 229.75Z" fill="#dca888"/><ellipse cx="37.52" cy="228.96" rx="1.27" ry="3.01" fill="#c08868" opacity="0.9"/><ellipse cx="50.19" cy="219.46" rx="5.54" ry="2.53" fill="#ecbc9c" opacity="0.85"/><ellipse cx="54.54" cy="230.15" rx="2.38" ry="2.53" fill="#ecbc9c" opacity="0.7"/><ellipse cx="43.86" cy="234.50" rx="2.38" ry="5.54" fill="#a06c50" opacity="0.75" transform="rotate(-25 43.86 234.50)"/><ellipse cx="49.79" cy="240.84" rx="5.54" ry="1.58" fill="#9a6448" opacity="0.7" transform="rotate(15 49.79 240.84)"/></g><g><path d="M33.17 230.54 C32.64 227.25 28.15 210.75 33.17 206.79 C38.18 202.83 58.24 204.09 63.25 206.79 C68.27 209.50 63.86 220.36 63.25 223.02 C62.65 225.69 60.51 223.41 59.61 222.79 C58.71 222.17 58.58 220.33 57.87 219.30 C57.16 218.27 56.42 217.27 55.34 216.61 C54.25 215.95 52.83 215.49 51.38 215.34 C49.93 215.20 48.05 215.40 46.63 215.74 C45.20 216.08 43.83 216.60 42.83 217.40 C41.82 218.21 41.07 219.30 40.61 220.57 C40.15 221.84 40.10 223.52 40.06 225.00 C40.02 226.48 40.57 228.64 40.37 229.44 C40.17 230.23 39.28 230.36 38.87 229.75 C38.46 229.15 38.34 226.32 37.92 225.79 C37.50 225.27 37.13 225.79 36.33 226.59 C35.54 227.38 33.69 233.84 33.17 230.54Z" fill="#2e211b" opacity="0.85"/><ellipse cx="47.02" cy="227.14" rx="2.88" ry="1.01" fill="url(#g34221c_35)" opacity="0.85" transform="rotate(5 47.02 227.14)"/><ellipse cx="55.49" cy="225.95" rx="2.66" ry="1.01" fill="url(#g34221c_35)" opacity="0.85" transform="rotate(-5 55.49 225.95)"/><ellipse cx="46.47" cy="225.48" rx="3.55" ry="0.76" fill="url(#g3a2a22_35)" opacity="0.85" transform="rotate(-5 46.47 225.48)"/><ellipse cx="55.49" cy="224.21" rx="3.33" ry="0.76" fill="url(#g3a2a22_35)" opacity="0.85" transform="rotate(-3 55.49 224.21)"/><ellipse cx="51.38" cy="229.75" rx="1.11" ry="3.55" fill="url(#gb88064_35)" opacity="0.6" transform="rotate(5 51.38 229.75)"/><ellipse cx="52.57" cy="232.13" rx="2.22" ry="1.01" fill="url(#ga06c54_35)" opacity="0.8"/><ellipse cx="53.12" cy="236.56" rx="3.99" ry="0.89" fill="url(#g7a4038_35)" opacity="0.85" transform="rotate(-5 53.12 236.56)"/></g></g></g>
<g><clipPath id="h7"><path d="M34.15 264.21 C34.01 262.83 34.08 261.04 34.54 259.46 C35.00 257.88 35.86 256.10 36.92 254.71 C37.97 253.32 39.42 252.07 40.88 251.15 C42.33 250.22 43.91 249.50 45.63 249.17 C47.34 248.84 49.45 248.84 51.17 249.17 C52.88 249.50 54.47 250.22 55.92 251.15 C57.37 252.07 58.76 253.32 59.88 254.71 C61.00 256.10 62.06 257.88 62.65 259.46 C63.24 261.04 63.51 262.76 63.44 264.21 C63.38 265.66 62.72 267.11 62.25 268.17 C61.79 269.23 61.13 269.62 60.67 270.54 C60.21 271.47 60.01 272.52 59.48 273.71 C58.96 274.90 58.36 276.48 57.50 277.67 C56.65 278.86 55.52 280.05 54.34 280.84 C53.15 281.63 51.57 282.29 50.38 282.42 C49.19 282.55 48.27 282.16 47.21 281.63 C46.15 281.10 44.97 280.18 44.04 279.25 C43.12 278.33 42.39 277.01 41.67 276.09 C40.94 275.16 40.41 274.64 39.69 273.71 C38.96 272.79 38.04 271.53 37.31 270.54 C36.59 269.56 35.86 268.83 35.33 267.77 C34.81 266.72 34.28 265.60 34.15 264.21Z"/></clipPath><path d="M34.15 264.21 C34.01 262.83 34.08 261.04 34.54 259.46 C35.00 257.88 35.86 256.10 36.92 254.71 C37.97 253.32 39.42 252.07 40.88 251.15 C42.33 250.22 43.91 249.50 45.63 249.17 C47.34 248.84 49.45 248.84 51.17 249.17 C52.88 249.50 54.47 250.22 55.92 251.15 C57.37 252.07 58.76 253.32 59.88 254.71 C61.00 256.10 62.06 257.88 62.65 259.46 C63.24 261.04 63.51 262.76 63.44 264.21 C63.38 265.66 62.72 267.11 62.25 268.17 C61.79 269.23 61.13 269.62 60.67 270.54 C60.21 271.47 60.01 272.52 59.48 273.71 C58.96 274.90 58.36 276.48 57.50 277.67 C56.65 278.86 55.52 280.05 54.34 280.84 C53.15 281.63 51.57 282.29 50.38 282.42 C49.19 282.55 48.27 282.16 47.21 281.63 C46.15 281.10 44.97 280.18 44.04 279.25 C43.12 278.33 42.39 277.01 41.67 276.09 C40.94 275.16 40.41 274.64 39.69 273.71 C38.96 272.79 38.04 271.53 37.31 270.54 C36.59 269.56 35.86 268.83 35.33 267.77 C34.81 266.72 34.28 265.60 34.15 264.21Z" fill="#aea8a2"/><g clip-path="url(#h7)"><g filter="url(#b2)"><ellipse cx="43.65" cy="254.31" rx="7.13" ry="3.01" fill="#d6d2ce" opacity="0.9" transform="rotate(-15 43.65 254.31)"/><ellipse cx="55.92" cy="254.71" rx="4.75" ry="2.38" fill="#c6c2bc" opacity="0.7" transform="rotate(25 55.92 254.71)"/><ellipse cx="50.54" cy="254.31" rx="0.79" ry="3.96" fill="#7a746c" opacity="0.6" transform="rotate(8 50.54 254.31)"/><ellipse cx="36.13" cy="265.79" rx="2.22" ry="6.33" fill="#8a847c" opacity="0.8" transform="rotate(-5 36.13 265.79)"/><ellipse cx="61.86" cy="265.40" rx="2.06" ry="6.33" fill="#8a847c" opacity="0.8" transform="rotate(8 61.86 265.40)"/><path d="M39.53 272.92 C39.13 271.55 39.07 269.62 39.13 268.17 C39.20 266.72 39.37 265.29 39.93 264.21 C40.48 263.13 41.44 262.30 42.46 261.68 C43.48 261.06 44.84 260.83 46.02 260.49 C47.21 260.15 48.46 259.62 49.59 259.62 C50.71 259.62 51.63 260.15 52.75 260.49 C53.87 260.83 55.30 260.99 56.32 261.68 C57.33 262.36 58.28 263.46 58.85 264.61 C59.42 265.75 59.58 267.05 59.72 268.57 C59.87 270.08 60.06 272.14 59.72 273.71 C59.38 275.28 58.56 276.73 57.66 277.99 C56.76 279.24 55.55 280.43 54.34 281.23 C53.12 282.04 51.57 282.69 50.38 282.82 C49.19 282.95 48.29 282.57 47.21 282.03 C46.13 281.48 44.84 280.51 43.89 279.57 C42.94 278.63 42.24 277.51 41.51 276.40 C40.78 275.30 39.93 274.29 39.53 272.92Z" fill="#e2b496"/><ellipse cx="44.04" cy="270.54" rx="2.77" ry="2.38" fill="#efc4a8" opacity="0.8"/><ellipse cx="55.13" cy="270.15" rx="2.77" ry="2.38" fill="#efc4a8" opacity="0.8"/><ellipse cx="49.59" cy="263.02" rx="4.75" ry="1.58" fill="#ecc0a2" opacity="0.7"/><ellipse cx="46.02" cy="279.65" rx="3.96" ry="1.98" fill="#c08e70" opacity="0.7" transform="rotate(30 46.02 279.65)"/><ellipse cx="54.34" cy="280.05" rx="3.96" ry="1.74" fill="#c69474" opacity="0.6" transform="rotate(-30 54.34 280.05)"/></g><g><ellipse cx="44.20" cy="266.35" rx="2.88" ry="1.01" fill="url(#g3e2e28_35)" opacity="0.85"/><ellipse cx="54.49" cy="265.95" rx="2.88" ry="1.01" fill="url(#g3e2e28_35)" opacity="0.85"/><ellipse cx="43.89" cy="264.69" rx="3.55" ry="0.63" fill="url(#g6a5a50_35)" opacity="0.75" transform="rotate(-5 43.89 264.69)"/><ellipse cx="54.73" cy="264.37" rx="3.55" ry="0.63" fill="url(#g6a5a50_35)" opacity="0.75" transform="rotate(5 54.73 264.37)"/><ellipse cx="49.19" cy="271.18" rx="2.66" ry="1.14" fill="url(#gb87a60_35)" opacity="0.8"/><ellipse cx="49.74" cy="275.53" rx="5.10" ry="1.27" fill="url(#ga83e42_35)" opacity="0.9"/><ellipse cx="49.74" cy="276.88" rx="3.33" ry="0.76" fill="url(#gd8a088_35)" opacity="0.6"/></g></g></g>
<g><clipPath id="h8"><path d="M35.15 305.79 C35.08 304.47 35.67 302.63 35.94 301.04 C36.20 299.46 36.20 297.74 36.73 296.29 C37.26 294.84 38.05 293.46 39.11 292.33 C40.16 291.21 41.55 290.22 43.06 289.56 C44.58 288.90 46.43 288.44 48.21 288.38 C49.99 288.31 52.17 288.64 53.75 289.17 C55.34 289.69 56.59 290.49 57.71 291.54 C58.83 292.60 59.82 294.05 60.48 295.50 C61.14 296.95 61.34 298.67 61.67 300.25 C62.00 301.84 62.33 303.42 62.46 305.00 C62.59 306.59 62.66 308.17 62.46 309.75 C62.26 311.34 61.87 313.05 61.27 314.50 C60.68 315.96 59.89 317.34 58.90 318.46 C57.91 319.58 56.59 320.64 55.34 321.23 C54.08 321.83 52.70 322.09 51.38 322.03 C50.06 321.96 48.74 321.43 47.42 320.84 C46.10 320.24 44.58 319.39 43.46 318.46 C42.34 317.54 41.55 316.48 40.69 315.30 C39.83 314.11 39.04 312.39 38.31 311.34 C37.59 310.28 36.86 309.88 36.33 308.96 C35.81 308.04 35.21 307.11 35.15 305.79Z"/></clipPath><path d="M35.15 305.79 C35.08 304.47 35.67 302.63 35.94 301.04 C36.20 299.46 36.20 297.74 36.73 296.29 C37.26 294.84 38.05 293.46 39.11 292.33 C40.16 291.21 41.55 290.22 43.06 289.56 C44.58 288.90 46.43 288.44 48.21 288.38 C49.99 288.31 52.17 288.64 53.75 289.17 C55.34 289.69 56.59 290.49 57.71 291.54 C58.83 292.60 59.82 294.05 60.48 295.50 C61.14 296.95 61.34 298.67 61.67 300.25 C62.00 301.84 62.33 303.42 62.46 305.00 C62.59 306.59 62.66 308.17 62.46 309.75 C62.26 311.34 61.87 313.05 61.27 314.50 C60.68 315.96 59.89 317.34 58.90 318.46 C57.91 319.58 56.59 320.64 55.34 321.23 C54.08 321.83 52.70 322.09 51.38 322.03 C50.06 321.96 48.74 321.43 47.42 320.84 C46.10 320.24 44.58 319.39 43.46 318.46 C42.34 317.54 41.55 316.48 40.69 315.30 C39.83 314.11 39.04 312.39 38.31 311.34 C37.59 310.28 36.86 309.88 36.33 308.96 C35.81 308.04 35.21 307.11 35.15 305.79Z" fill="#d8a688"/><g clip-path="url(#h8)"><g filter="url(#b2)"><ellipse cx="37.92" cy="296.29" rx="2.22" ry="5.54" fill="#a88c74" opacity="0.8" transform="rotate(20 37.92 296.29)"/><ellipse cx="59.69" cy="294.71" rx="1.98" ry="4.35" fill="#b49a84" opacity="0.8" transform="rotate(-30 59.69 294.71)"/><ellipse cx="48.21" cy="289.56" rx="7.92" ry="1.27" fill="#b8a08a" opacity="0.7"/><ellipse cx="48.61" cy="295.90" rx="7.13" ry="3.96" fill="#ecc6a8" opacity="0.9"/><ellipse cx="38.31" cy="307.38" rx="2.69" ry="6.73" fill="#94684e" opacity="0.8" transform="rotate(-8 38.31 307.38)"/><ellipse cx="56.13" cy="309.75" rx="3.56" ry="3.56" fill="#e4b698" opacity="0.8"/><ellipse cx="45.84" cy="310.54" rx="2.77" ry="2.38" fill="#e0b294" opacity="0.6"/><ellipse cx="50.59" cy="320.05" rx="7.13" ry="2.38" fill="#c08c70" opacity="0.75" transform="rotate(5 50.59 320.05)"/><ellipse cx="43.06" cy="316.88" rx="2.38" ry="3.56" fill="#b08468" opacity="0.6" transform="rotate(-30 43.06 316.88)"/></g><g><ellipse cx="45.84" cy="305.56" rx="2.88" ry="1.01" fill="url(#g4a3228_35)" opacity="0.85" transform="rotate(5 45.84 305.56)"/><ellipse cx="55.10" cy="304.84" rx="2.88" ry="1.01" fill="url(#g4a3228_35)" opacity="0.85" transform="rotate(-3 55.10 304.84)"/><ellipse cx="45.44" cy="303.89" rx="3.33" ry="0.63" fill="url(#g9a7860_35)" opacity="0.7" transform="rotate(-3 45.44 303.89)"/><ellipse cx="55.34" cy="303.10" rx="3.33" ry="0.63" fill="url(#g9a7860_35)" opacity="0.7" transform="rotate(3 55.34 303.10)"/><ellipse cx="49.79" cy="309.75" rx="1.11" ry="3.80" fill="url(#gc08c70_35)" opacity="0.6" transform="rotate(5 49.79 309.75)"/><ellipse cx="50.98" cy="312.13" rx="2.44" ry="1.14" fill="url(#ga8705a_35)" opacity="0.8"/><ellipse cx="51.54" cy="316.56" rx="4.66" ry="0.89" fill="url(#g9a5c4e_35)" opacity="0.85" transform="rotate(-3 51.54 316.56)"/></g></g></g>
<g><clipPath id="h9"><path d="M36.15 345.79 C36.01 344.21 35.95 342.63 36.15 341.04 C36.34 339.46 36.74 337.74 37.33 336.29 C37.93 334.84 38.65 333.46 39.71 332.33 C40.77 331.21 42.28 330.29 43.67 329.56 C45.05 328.84 46.57 328.05 48.02 327.98 C49.47 327.91 50.99 328.77 52.38 329.17 C53.76 329.56 55.21 329.56 56.34 330.35 C57.46 331.15 58.38 332.53 59.11 333.92 C59.83 335.30 60.30 337.08 60.69 338.67 C61.09 340.25 61.42 341.84 61.48 343.42 C61.55 345.00 61.29 346.59 61.09 348.17 C60.89 349.75 60.76 351.34 60.30 352.92 C59.83 354.50 59.24 356.35 58.32 357.67 C57.39 358.99 56.14 359.98 54.75 360.84 C53.37 361.70 51.59 362.62 50.00 362.82 C48.42 363.02 46.70 362.62 45.25 362.03 C43.80 361.43 42.41 360.38 41.29 359.25 C40.17 358.13 39.25 356.75 38.52 355.30 C37.80 353.84 37.33 352.13 36.94 350.54 C36.54 348.96 36.28 347.38 36.15 345.79Z"/></clipPath><path d="M36.15 345.79 C36.01 344.21 35.95 342.63 36.15 341.04 C36.34 339.46 36.74 337.74 37.33 336.29 C37.93 334.84 38.65 333.46 39.71 332.33 C40.77 331.21 42.28 330.29 43.67 329.56 C45.05 328.84 46.57 328.05 48.02 327.98 C49.47 327.91 50.99 328.77 52.38 329.17 C53.76 329.56 55.21 329.56 56.34 330.35 C57.46 331.15 58.38 332.53 59.11 333.92 C59.83 335.30 60.30 337.08 60.69 338.67 C61.09 340.25 61.42 341.84 61.48 343.42 C61.55 345.00 61.29 346.59 61.09 348.17 C60.89 349.75 60.76 351.34 60.30 352.92 C59.83 354.50 59.24 356.35 58.32 357.67 C57.39 358.99 56.14 359.98 54.75 360.84 C53.37 361.70 51.59 362.62 50.00 362.82 C48.42 363.02 46.70 362.62 45.25 362.03 C43.80 361.43 42.41 360.38 41.29 359.25 C40.17 358.13 39.25 356.75 38.52 355.30 C37.80 353.84 37.33 352.13 36.94 350.54 C36.54 348.96 36.28 347.38 36.15 345.79Z" fill="#9a9692"/><g clip-path="url(#h9)"><g filter="url(#b2)"><ellipse cx="48.02" cy="331.94" rx="10.29" ry="3.56" fill="#d4d4d4" opacity="0.95" transform="rotate(-3 48.02 331.94)"/><ellipse cx="46.84" cy="330.35" rx="6.33" ry="1.74" fill="#f0f0f0" opacity="0.9"/><ellipse cx="37.49" cy="344.21" rx="1.74" ry="5.94" fill="#3a3633" opacity="0.9" transform="rotate(-3 37.49 344.21)"/><ellipse cx="60.14" cy="343.42" rx="1.74" ry="6.33" fill="#3a3633" opacity="0.9" transform="rotate(3 60.14 343.42)"/><path d="M38.92 352.13 C38.88 350.52 38.42 347.64 38.52 345.79 C38.63 343.95 38.96 342.36 39.55 341.04 C40.14 339.72 41.00 338.73 42.08 337.88 C43.17 337.02 44.59 336.32 46.04 335.90 C47.50 335.47 49.34 335.24 50.79 335.34 C52.25 335.45 53.60 335.84 54.75 336.53 C55.90 337.22 56.93 338.31 57.68 339.46 C58.43 340.61 58.94 341.97 59.27 343.42 C59.60 344.87 59.60 346.59 59.66 348.17 C59.73 349.75 59.93 351.31 59.66 352.92 C59.40 354.53 58.90 356.44 58.08 357.83 C57.26 359.21 56.10 360.34 54.75 361.23 C53.41 362.13 51.59 363.02 50.00 363.21 C48.42 363.41 46.73 363.03 45.25 362.42 C43.77 361.81 42.22 360.73 41.13 359.57 C40.05 358.41 39.13 356.69 38.76 355.45 C38.39 354.21 38.96 353.74 38.92 352.13Z" fill="#a07259"/><ellipse cx="47.63" cy="339.46" rx="5.94" ry="2.53" fill="#c89878" opacity="0.9"/><ellipse cx="48.81" cy="350.54" rx="2.77" ry="2.77" fill="#b48468" opacity="0.8"/><ellipse cx="48.81" cy="360.05" rx="8.71" ry="3.56" fill="#644438" opacity="0.8"/><ellipse cx="40.50" cy="352.92" rx="1.98" ry="5.54" fill="#7a5644" opacity="0.7" transform="rotate(-10 40.50 352.92)"/><ellipse cx="58.32" cy="352.92" rx="1.74" ry="5.54" fill="#7a5644" opacity="0.7" transform="rotate(10 58.32 352.92)"/></g><g><ellipse cx="43.67" cy="346.35" rx="3.77" ry="1.27" fill="url(#g2a1e1a_35)" opacity="0.85"/><ellipse cx="54.12" cy="345.95" rx="3.77" ry="1.27" fill="url(#g2a1e1a_35)" opacity="0.85"/><ellipse cx="43.51" cy="344.37" rx="3.99" ry="0.76" fill="url(#g3a2c26_35)" opacity="0.8" transform="rotate(-3 43.51 344.37)"/><ellipse cx="54.36" cy="344.05" rx="3.99" ry="0.76" fill="url(#g3a2c26_35)" opacity="0.8" transform="rotate(3 54.36 344.05)"/><ellipse cx="48.58" cy="352.92" rx="2.66" ry="1.01" fill="url(#g6a4636_35)" opacity="0.8"/><ellipse cx="48.89" cy="356.25" rx="4.21" ry="1.14" fill="url(#g3a221e_35)" opacity="0.9"/></g></g></g>
<g><clipPath id="h10"><path d="M35.54 384.21 C35.54 382.63 35.61 381.04 35.94 379.46 C36.27 377.88 36.73 376.10 37.52 374.71 C38.31 373.32 39.44 372.14 40.69 371.15 C41.94 370.16 43.53 369.23 45.04 368.77 C46.56 368.31 48.21 368.18 49.79 368.38 C51.38 368.57 53.09 369.17 54.54 369.96 C56.00 370.75 57.45 371.81 58.50 373.13 C59.56 374.45 60.35 376.29 60.88 377.88 C61.41 379.46 61.67 381.04 61.67 382.63 C61.67 384.21 61.21 386.06 60.88 387.38 C60.55 388.70 60.09 389.36 59.69 390.54 C59.30 391.73 59.16 393.18 58.50 394.50 C57.84 395.82 56.92 397.34 55.73 398.46 C54.54 399.58 52.90 400.64 51.38 401.23 C49.86 401.83 48.14 402.22 46.63 402.03 C45.11 401.83 43.53 400.90 42.27 400.05 C41.02 399.19 39.96 398.07 39.11 396.88 C38.25 395.69 37.65 394.24 37.13 392.92 C36.60 391.60 36.20 390.41 35.94 388.96 C35.67 387.51 35.54 385.79 35.54 384.21Z"/></clipPath><path d="M35.54 384.21 C35.54 382.63 35.61 381.04 35.94 379.46 C36.27 377.88 36.73 376.10 37.52 374.71 C38.31 373.32 39.44 372.14 40.69 371.15 C41.94 370.16 43.53 369.23 45.04 368.77 C46.56 368.31 48.21 368.18 49.79 368.38 C51.38 368.57 53.09 369.17 54.54 369.96 C56.00 370.75 57.45 371.81 58.50 373.13 C59.56 374.45 60.35 376.29 60.88 377.88 C61.41 379.46 61.67 381.04 61.67 382.63 C61.67 384.21 61.21 386.06 60.88 387.38 C60.55 388.70 60.09 389.36 59.69 390.54 C59.30 391.73 59.16 393.18 58.50 394.50 C57.84 395.82 56.92 397.34 55.73 398.46 C54.54 399.58 52.90 400.64 51.38 401.23 C49.86 401.83 48.14 402.22 46.63 402.03 C45.11 401.83 43.53 400.90 42.27 400.05 C41.02 399.19 39.96 398.07 39.11 396.88 C38.25 395.69 37.65 394.24 37.13 392.92 C36.60 391.60 36.20 390.41 35.94 388.96 C35.67 387.51 35.54 385.79 35.54 384.21Z" fill="#77736d"/><g clip-path="url(#h10)"><g filter="url(#b2)"><ellipse cx="46.63" cy="370.91" rx="7.92" ry="1.74" fill="#a8a49e" opacity="0.75" transform="rotate(-3 46.63 370.91)"/><ellipse cx="60.09" cy="382.63" rx="1.90" ry="6.73" fill="#aaa6a0" opacity="0.85" transform="rotate(5 60.09 382.63)"/><ellipse cx="36.73" cy="380.25" rx="1.58" ry="4.75" fill="#6e6a64" opacity="0.7" transform="rotate(10 36.73 380.25)"/><path d="M37.36 392.92 C37.01 391.42 36.81 389.75 36.81 388.17 C36.81 386.59 37.01 385.00 37.36 383.42 C37.72 381.84 38.16 379.95 38.95 378.67 C39.74 377.39 40.83 376.49 42.11 375.74 C43.39 374.99 45.08 374.42 46.63 374.16 C48.17 373.89 49.90 373.83 51.38 374.16 C52.86 374.49 54.41 375.18 55.49 376.13 C56.58 377.08 57.32 378.51 57.87 379.86 C58.42 381.20 58.62 382.69 58.82 384.21 C59.02 385.73 59.06 387.25 59.06 388.96 C59.06 390.68 59.35 392.87 58.82 394.50 C58.29 396.14 57.13 397.57 55.89 398.78 C54.65 399.99 52.92 401.15 51.38 401.79 C49.83 402.42 48.17 402.79 46.63 402.58 C45.08 402.37 43.39 401.42 42.11 400.52 C40.83 399.62 39.74 398.46 38.95 397.20 C38.16 395.93 37.72 394.42 37.36 392.92Z" fill="#c88a62"/><ellipse cx="47.42" cy="378.27" rx="6.73" ry="3.01" fill="#e2ac88" opacity="0.9"/><ellipse cx="43.46" cy="389.75" rx="2.77" ry="2.77" fill="#d8a07a" opacity="0.7"/><ellipse cx="56.52" cy="392.13" rx="1.98" ry="5.94" fill="#8a5a40" opacity="0.75" transform="rotate(12 56.52 392.13)"/><ellipse cx="46.63" cy="399.65" rx="7.92" ry="2.77" fill="#9c6646" opacity="0.75"/></g><g><ellipse cx="42.43" cy="384.84" rx="3.33" ry="1.14" fill="url(#g2e1e18_35)" opacity="0.85" transform="rotate(5 42.43 384.84)"/><ellipse cx="53.12" cy="384.84" rx="3.10" ry="1.14" fill="url(#g2e1e18_35)" opacity="0.85" transform="rotate(-3 53.12 384.84)"/><ellipse cx="42.03" cy="383.02" rx="3.77" ry="0.76" fill="url(#g5a4a40_35)" opacity="0.75" transform="rotate(-8 42.03 383.02)"/><ellipse cx="53.36" cy="383.02" rx="3.55" ry="0.76" fill="url(#g5a4a40_35)" opacity="0.75" transform="rotate(5 53.36 383.02)"/><ellipse cx="46.23" cy="388.96" rx="1.11" ry="4.05" fill="url(#ga87050_35)" opacity="0.6" transform="rotate(5 46.23 388.96)"/><ellipse cx="47.02" cy="391.49" rx="2.66" ry="1.14" fill="url(#g8a5438_35)" opacity="0.8"/><ellipse cx="47.18" cy="395.85" rx="5.10" ry="1.65" fill="url(#g34161a_35)" opacity="0.9" transform="rotate(-3 47.18 395.85)"/><ellipse cx="47.02" cy="395.14" rx="3.33" ry="0.51" fill="url(#gd8c0b4_35)" opacity="0.6" transform="rotate(-3 47.02 395.14)"/></g></g></g>
<g><clipPath id="h11"><path d="M35.94 425.79 C35.74 424.47 36.47 423.15 36.73 421.84 C36.99 420.52 36.99 419.20 37.52 417.88 C38.05 416.56 38.91 415.04 39.90 413.92 C40.89 412.80 42.07 411.87 43.46 411.15 C44.85 410.42 46.63 409.76 48.21 409.56 C49.79 409.37 51.58 409.56 52.96 409.96 C54.35 410.35 55.53 411.01 56.52 411.94 C57.51 412.86 58.31 414.12 58.90 415.50 C59.49 416.89 59.82 418.67 60.09 420.25 C60.35 421.84 60.48 423.42 60.48 425.00 C60.48 426.59 60.22 428.30 60.09 429.75 C59.96 431.20 60.02 432.39 59.69 433.71 C59.36 435.03 58.97 436.61 58.11 437.67 C57.25 438.73 55.80 439.52 54.54 440.05 C53.29 440.57 51.91 440.97 50.59 440.84 C49.27 440.71 47.88 439.98 46.63 439.25 C45.37 438.53 44.12 437.54 43.06 436.48 C42.01 435.43 41.15 434.04 40.29 432.92 C39.44 431.80 38.64 430.94 37.92 429.75 C37.19 428.57 36.14 427.11 35.94 425.79Z"/></clipPath><path d="M35.94 425.79 C35.74 424.47 36.47 423.15 36.73 421.84 C36.99 420.52 36.99 419.20 37.52 417.88 C38.05 416.56 38.91 415.04 39.90 413.92 C40.89 412.80 42.07 411.87 43.46 411.15 C44.85 410.42 46.63 409.76 48.21 409.56 C49.79 409.37 51.58 409.56 52.96 409.96 C54.35 410.35 55.53 411.01 56.52 411.94 C57.51 412.86 58.31 414.12 58.90 415.50 C59.49 416.89 59.82 418.67 60.09 420.25 C60.35 421.84 60.48 423.42 60.48 425.00 C60.48 426.59 60.22 428.30 60.09 429.75 C59.96 431.20 60.02 432.39 59.69 433.71 C59.36 435.03 58.97 436.61 58.11 437.67 C57.25 438.73 55.80 439.52 54.54 440.05 C53.29 440.57 51.91 440.97 50.59 440.84 C49.27 440.71 47.88 439.98 46.63 439.25 C45.37 438.53 44.12 437.54 43.06 436.48 C42.01 435.43 41.15 434.04 40.29 432.92 C39.44 431.80 38.64 430.94 37.92 429.75 C37.19 428.57 36.14 427.11 35.94 425.79Z" fill="#d2cac2"/><g clip-path="url(#h11)"><g filter="url(#b2)"><ellipse cx="40.29" cy="419.46" rx="1.98" ry="4.75" fill="#b8b0a8" opacity="0.7" transform="rotate(15 40.29 419.46)"/><path d="M40.93 429.75 C40.54 427.44 40.61 424.61 40.77 422.63 C40.93 420.65 41.16 419.20 41.88 417.88 C42.59 416.56 43.72 415.44 45.04 414.71 C46.36 413.98 48.21 413.59 49.79 413.52 C51.38 413.46 53.20 413.72 54.54 414.31 C55.89 414.91 56.88 416.10 57.87 417.08 C58.86 418.07 59.92 418.93 60.48 420.25 C61.05 421.57 61.21 423.42 61.27 425.00 C61.34 426.59 61.01 428.30 60.88 429.75 C60.75 431.20 60.94 432.39 60.48 433.71 C60.02 435.03 59.10 436.61 58.11 437.67 C57.12 438.73 55.80 439.52 54.54 440.05 C53.29 440.57 51.91 440.97 50.59 440.84 C49.27 440.71 47.88 439.98 46.63 439.25 C45.37 438.53 44.01 438.07 43.06 436.48 C42.11 434.90 41.31 432.06 40.93 429.75Z" fill="#c8885c"/><ellipse cx="37.52" cy="426.74" rx="1.43" ry="2.85" fill="#c08a68" opacity="0.95"/><ellipse cx="50.19" cy="417.88" rx="5.54" ry="2.53" fill="#e4ae84" opacity="0.9"/><ellipse cx="45.84" cy="428.17" rx="2.77" ry="2.22" fill="#d49a70" opacity="0.8"/><path d="M39.90 429.75 C40.36 429.56 41.55 431.20 42.67 431.73 C43.79 432.26 45.18 433.01 46.63 432.92 C48.08 432.83 49.79 431.34 51.38 431.18 C52.96 431.02 54.78 432.14 56.13 431.97 C57.47 431.80 58.53 430.52 59.45 430.15 C60.38 429.78 61.37 429.16 61.67 429.75 C61.97 430.35 61.74 432.26 61.27 433.71 C60.81 435.16 59.96 437.27 58.90 438.46 C57.84 439.65 56.33 440.31 54.94 440.84 C53.56 441.37 52.04 441.79 50.59 441.63 C49.13 441.47 47.55 440.65 46.23 439.89 C44.91 439.12 43.72 438.20 42.67 437.04 C41.61 435.88 40.36 434.13 39.90 432.92 C39.44 431.71 39.44 429.95 39.90 429.75Z" fill="#e2dcd4"/><ellipse cx="44.25" cy="436.09" rx="3.17" ry="2.38" fill="#c8c0b8" opacity="0.6" transform="rotate(35 44.25 436.09)"/></g><g><ellipse cx="47.58" cy="423.26" rx="3.33" ry="1.14" fill="url(#g2e1e18_35)" opacity="0.85" transform="rotate(5 47.58 423.26)"/><ellipse cx="56.29" cy="424.05" rx="2.88" ry="1.14" fill="url(#g2e1e18_35)" opacity="0.85" transform="rotate(5 56.29 424.05)"/><ellipse cx="47.26" cy="421.52" rx="4.21" ry="0.89" fill="url(#g5a4a42_35)" opacity="0.8" transform="rotate(3 47.26 421.52)"/><ellipse cx="56.52" cy="422.23" rx="3.55" ry="0.89" fill="url(#g5a4a42_35)" opacity="0.8" transform="rotate(8 56.52 422.23)"/><ellipse cx="52.57" cy="428.57" rx="2.66" ry="1.27" fill="url(#ga87050_35)" opacity="0.7"/><ellipse cx="51.38" cy="431.49" rx="5.54" ry="1.27" fill="url(#gece6de_35)" opacity="0.9" transform="rotate(-3 51.38 431.49)"/><ellipse cx="51.54" cy="433.87" rx="4.43" ry="1.14" fill="url(#g6a4238_35)" opacity="0.85" transform="rotate(-3 51.54 433.87)"/></g></g></g>
<g><clipPath id="h12"><path d="M35.54 465.75 C35.48 463.91 35.67 461.93 35.94 460.21 C36.20 458.50 36.47 456.98 37.13 455.46 C37.79 453.94 38.71 452.23 39.90 451.11 C41.08 449.98 42.73 449.26 44.25 448.73 C45.77 448.20 47.42 447.94 49.00 447.94 C50.59 447.94 52.30 448.20 53.75 448.73 C55.20 449.26 56.59 450.05 57.71 451.11 C58.83 452.16 59.82 453.55 60.48 455.06 C61.14 456.58 61.47 458.43 61.67 460.21 C61.87 461.99 61.80 463.91 61.67 465.75 C61.54 467.60 61.21 469.58 60.88 471.30 C60.55 473.01 60.22 474.33 59.69 476.05 C59.16 477.76 60.68 480.66 57.71 481.59 C54.74 482.51 45.18 482.51 41.88 481.59 C38.58 480.66 38.84 477.76 37.92 476.05 C36.99 474.33 36.73 473.01 36.33 471.30 C35.94 469.58 35.61 467.60 35.54 465.75Z"/></clipPath><path d="M35.54 465.75 C35.48 463.91 35.67 461.93 35.94 460.21 C36.20 458.50 36.47 456.98 37.13 455.46 C37.79 453.94 38.71 452.23 39.90 451.11 C41.08 449.98 42.73 449.26 44.25 448.73 C45.77 448.20 47.42 447.94 49.00 447.94 C50.59 447.94 52.30 448.20 53.75 448.73 C55.20 449.26 56.59 450.05 57.71 451.11 C58.83 452.16 59.82 453.55 60.48 455.06 C61.14 456.58 61.47 458.43 61.67 460.21 C61.87 461.99 61.80 463.91 61.67 465.75 C61.54 467.60 61.21 469.58 60.88 471.30 C60.55 473.01 60.22 474.33 59.69 476.05 C59.16 477.76 60.68 480.66 57.71 481.59 C54.74 482.51 45.18 482.51 41.88 481.59 C38.58 480.66 38.84 477.76 37.92 476.05 C36.99 474.33 36.73 473.01 36.33 471.30 C35.94 469.58 35.61 467.60 35.54 465.75Z" fill="#2c2422"/><g clip-path="url(#h12)"><g filter="url(#b2)"><ellipse cx="47.42" cy="450.31" rx="6.33" ry="1.43" fill="#4a3e3a" opacity="0.6" transform="rotate(-3 47.42 450.31)"/><path d="M37.76 465.75 C38.02 463.71 37.71 461.40 38.23 459.81 C38.76 458.23 39.79 457.14 40.93 456.25 C42.06 455.37 43.57 454.88 45.04 454.51 C46.52 454.14 48.21 453.98 49.79 454.03 C51.38 454.09 53.20 454.29 54.54 454.83 C55.89 455.37 56.97 456.25 57.87 457.28 C58.77 458.31 59.45 459.59 59.93 461.00 C60.40 462.41 60.30 463.91 60.72 465.75 C61.14 467.60 62.44 469.18 62.46 472.09 C62.49 474.99 64.84 481.32 60.88 483.17 C56.92 485.02 42.75 485.02 38.71 483.17 C34.67 481.32 36.81 474.99 36.65 472.09 C36.49 469.18 37.50 467.80 37.76 465.75Z" fill="#dca488"/><ellipse cx="49.00" cy="458.23" rx="7.13" ry="2.53" fill="#f0be9e" opacity="0.9"/><ellipse cx="42.67" cy="468.92" rx="2.77" ry="2.77" fill="#e8b496" opacity="0.7"/><ellipse cx="55.73" cy="468.92" rx="2.77" ry="2.77" fill="#e8b496" opacity="0.7"/><ellipse cx="38.31" cy="473.67" rx="1.58" ry="5.54" fill="#b88468" opacity="0.7" transform="rotate(-8 38.31 473.67)"/><ellipse cx="60.09" cy="473.67" rx="1.58" ry="5.54" fill="#b88468" opacity="0.7" transform="rotate(8 60.09 473.67)"/></g><g><path d="M32.38 467.34 C31.45 463.84 26.96 448.86 32.38 445.17 C37.79 441.47 59.43 441.60 64.84 445.17 C70.25 448.73 65.47 463.05 64.84 466.54 C64.20 470.04 61.83 467.05 61.04 466.15 C60.25 465.25 60.61 462.57 60.09 461.16 C59.56 459.75 58.79 458.65 57.87 457.68 C56.95 456.70 55.89 455.83 54.54 455.30 C53.20 454.77 51.38 454.58 49.79 454.51 C48.21 454.44 46.50 454.55 45.04 454.91 C43.59 455.26 42.17 455.79 41.08 456.65 C40.00 457.51 39.08 458.47 38.55 460.05 C38.02 461.64 38.95 464.93 37.92 466.15 C36.89 467.36 33.30 470.83 32.38 467.34Z" fill="#2c2422" opacity="0.85"/><ellipse cx="44.25" cy="463.54" rx="3.33" ry="1.14" fill="url(#g34221c_35)" opacity="0.85" transform="rotate(3 44.25 463.54)"/><ellipse cx="53.91" cy="463.54" rx="3.33" ry="1.14" fill="url(#g34221c_35)" opacity="0.85" transform="rotate(-3 53.91 463.54)"/><ellipse cx="43.86" cy="461.79" rx="3.99" ry="0.76" fill="url(#g3a2c26_35)" opacity="0.8" transform="rotate(-5 43.86 461.79)"/><ellipse cx="54.15" cy="461.79" rx="3.99" ry="0.76" fill="url(#g3a2c26_35)" opacity="0.8" transform="rotate(5 54.15 461.79)"/><ellipse cx="49.40" cy="469.71" rx="3.10" ry="1.27" fill="url(#gb07a60_35)" opacity="0.8"/><ellipse cx="48.76" cy="474.46" rx="5.10" ry="1.27" fill="url(#g8a3a38_35)" opacity="0.9"/><ellipse cx="48.76" cy="473.67" rx="3.33" ry="0.51" fill="url(#ge8d0c8_35)" opacity="0.5"/></g></g></g>
</svg>
</body></html>
